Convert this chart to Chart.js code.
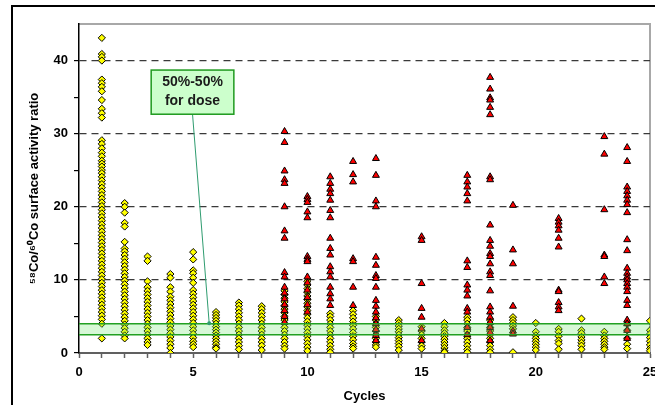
<!DOCTYPE html>
<html>
<head>
<meta charset="utf-8">
<script src="https://cdn.jsdelivr.net/npm/chart.js@4.4.0/dist/chart.umd.min.js"></script>
<style>
  body { margin: 0; background: #fff; }
  #caja { position: relative; width: 655px; height: 405px; }
</style>
</head>
<body>
<div id="caja"><canvas id="myChart"></canvas></div>
<script>
// ciclos con puntos amarillos (rombos)
const ciclos = [1, 2, 3, 4, 5, 6, 7, 8, 9, 10, 11, 12, 13, 14, 15, 16, 17, 18, 19, 20, 21, 22, 23, 24, 25];

// valores 58Co/60Co por ciclo (rombos amarillos)
const amarillos = [
  [43.1, 40.9, 40.5, 40.0, 37.4, 36.9, 36.4, 35.8, 34.6, 33.4, 32.8, 32.2, 29.1, 28.6, 28.0, 27.4, 26.9, 26.3, 25.9, 25.5, 25.0, 24.6, 24.1, 23.6, 23.1, 22.6, 22.1, 21.6, 21.1, 20.6, 20.1, 19.6, 19.1, 18.6, 18.1, 17.6, 17.1, 16.6, 16.1, 15.6, 15.1, 14.6, 14.1, 13.6, 13.1, 12.6, 12.1, 11.6, 11.1, 10.6, 10.1, 9.6, 9.1, 8.6, 8.1, 7.6, 7.1, 6.6, 6.1, 5.6, 5.1, 4.6, 4.0, 2.0],
  [20.5, 20.0, 19.2, 17.8, 17.3, 15.2, 14.3, 13.9, 13.4, 12.9, 12.4, 11.9, 11.4, 10.9, 10.4, 9.9, 9.4, 8.9, 8.4, 7.9, 7.4, 6.9, 6.4, 5.9, 5.4, 4.9, 4.4, 3.9, 3.4, 2.9, 2.4, 2.0],
  [13.2, 12.6, 9.8, 9.0, 8.5, 8.0, 7.5, 7.0, 6.5, 6.0, 5.5, 5.0, 4.5, 4.0, 3.5, 3.0, 2.5, 2.0, 1.5, 1.1],
  [10.8, 10.3, 9.0, 8.4, 7.7, 7.2, 6.7, 6.2, 5.7, 5.2, 4.7, 4.2, 3.7, 3.2, 2.7, 2.2, 1.7, 1.2, 0.7, 0.0],
  [13.8, 12.8, 11.3, 10.9, 10.3, 9.6, 8.6, 8.1, 7.6, 7.1, 6.6, 6.1, 5.6, 5.1, 4.6, 4.1, 3.6, 3.1, 2.6, 2.1, 1.6, 1.2, 0.8],
  [5.6, 5.2, 4.8, 4.4, 4.0, 3.6, 3.2, 2.8, 2.4, 2.0, 1.6, 1.2, 0.8, 0.6],
  [6.9, 6.5, 6.0, 5.5, 5.0, 4.5, 4.0, 3.5, 3.0, 2.5, 2.0, 1.5, 1.0, 0.5],
  [6.4, 6.0, 5.5, 5.0, 4.5, 4.0, 3.5, 3.0, 2.5, 2.0, 1.5, 1.0, 0.4],
  [8.5, 8.0, 7.5, 7.0, 6.5, 6.0, 5.5, 5.0, 4.5, 4.0, 3.5, 3.0, 2.5, 2.0, 1.5, 1.0, 0.6],
  [9.8, 9.3, 8.8, 8.3, 7.8, 7.3, 6.8, 6.3, 5.8, 5.3, 4.8, 4.3, 3.8, 3.3, 2.8, 2.3, 1.8, 1.3, 0.8, 0.3],
  [5.4, 5.0, 4.5, 4.0, 3.5, 3.0, 2.5, 2.0, 1.5, 1.0, 0.5, 0.1],
  [5.8, 5.3, 4.8, 4.3, 3.8, 3.3, 2.8, 2.3, 1.8, 1.3, 0.9, 0.6],
  [5.0, 4.5, 4.0, 3.5, 3.0, 2.5, 2.0, 1.5, 1.1, 0.8],
  [4.5, 4.1, 3.7, 3.3, 2.9, 2.5, 2.1, 1.7, 1.3, 0.9, 0.4],
  [3.6, 3.0, 2.5, 2.0, 1.5, 1.0, 0.6],
  [4.1, 3.6, 3.1, 2.7, 2.3, 1.9, 1.5, 1.1, 0.7, 0.3, 0.1],
  [4.9, 4.5, 4.0, 3.5, 3.0, 2.5, 2.0, 1.5, 1.0, 0.5, 0.1],
  [4.5, 4.0, 3.5, 3.0, 2.5, 2.0, 1.5, 1.0, 0.5, 0.1],
  [4.9, 4.5, 4.1, 3.7, 3.3, 0.1],
  [4.1, 2.9, 2.4, 2.0, 1.6, 1.2, 0.8, 0.4],
  [3.3, 2.9, 2.3, 1.7, 1.3, 0.5],
  [4.7, 3.1, 2.7, 2.2, 1.8, 1.4, 1.0, 0.5],
  [2.9, 2.4, 2.0, 1.6, 1.2, 0.8, 0.5],
  [4.0, 3.1, 2.0, 1.2, 0.6],
  [4.4, 3.1, 2.6, 2.1, 1.6, 1.1, 0.6, 0.3]
];

// ciclos con triangulos rojos
const ciclosRojos = [9, 10, 11, 12, 13, 15, 17, 18, 19, 21, 23, 24];
const rojos = [
  [30.3, 28.8, 24.9, 23.7, 23.2, 20.0, 16.7, 15.7, 11.0, 10.4, 9.0, 8.2, 7.4, 6.6, 5.8, 5.0, 4.2],
  [21.4, 21.0, 20.6, 19.3, 18.5, 13.2, 12.8, 12.5, 10.4, 9.6, 8.6, 7.6, 6.6, 5.6],
  [24.1, 23.2, 22.4, 21.8, 20.9, 19.5, 18.5, 15.7, 14.3, 13.4, 11.8, 11.1, 10.4, 9.0, 8.1, 7.4, 6.5],
  [26.2, 24.4, 23.4, 12.9, 12.5, 9.0, 6.5],
  [26.6, 24.3, 20.8, 20.0, 13.1, 12.0, 10.6, 10.2, 9.0, 7.2, 6.4, 5.6, 4.8, 4.0, 3.2, 2.4, 1.7],
  [15.9, 15.4, 9.5, 6.1, 4.9, 3.3, 1.7],
  [24.3, 23.4, 22.7, 21.8, 20.8, 12.6, 11.7, 9.3, 8.6, 7.8, 6.1, 5.6, 3.5, 2.5],
  [37.7, 36.1, 34.9, 34.6, 33.6, 32.6, 24.1, 23.7, 17.5, 15.4, 14.6, 13.6, 13.2, 12.2, 11.1, 10.6, 8.5, 6.3, 5.6, 4.9, 4.2, 3.5, 2.8, 1.7],
  [20.2, 14.1, 12.2, 6.4, 3.0, 2.6],
  [18.4, 17.9, 17.4, 16.8, 15.7, 14.5, 8.6, 8.4, 6.9, 6.3, 5.8],
  [29.6, 27.2, 19.6, 13.4, 13.2, 10.4, 9.5],
  [28.1, 26.2, 22.7, 22.1, 21.5, 20.9, 20.3, 19.2, 15.5, 14.0, 11.6, 10.9, 10.4, 10.0, 9.5, 9.0, 8.4, 7.2, 6.5, 4.5, 4.0, 3.1, 2.0]
];

// banda 50%-50% para dosis
const banda = [2.5, 4.0];
const textoNota = ["50%-50%", "for dose"];

const xTicks = [0, 5, 10, 15, 20, 25];
const yTicks = [0, 10, 20, 30, 40];

var puntosAmarillos = [];
for (i = 0; i < ciclos.length; i++) {
  amarillos[i].forEach(v => puntosAmarillos.push({x: ciclos[i], y: v}));
}
var puntosRojos = [];
for (i = 0; i < ciclosRojos.length; i++) {
  rojos[i].forEach(v => puntosRojos.push({x: ciclosRojos[i], y: v}));
}

// marco exterior, borde del area, banda verde y cuadro de texto
const extras = {
  id: 'extras',
  beforeDraw(chart) {
    const ctx = chart.ctx;
    const a = chart.chartArea;
    ctx.save();
    ctx.fillStyle = '#fff';
    ctx.fillRect(0, 0, chart.width, chart.height);
    ctx.strokeStyle = '#000';
    ctx.lineWidth = 2;
    ctx.beginPath();
    ctx.moveTo(12, chart.height);
    ctx.lineTo(12, 6);
    ctx.lineTo(chart.width, 6);
    ctx.stroke();
    ctx.strokeStyle = '#a8a8a8';
    ctx.lineWidth = 2;
    ctx.beginPath();
    ctx.moveTo(a.left, a.top);
    ctx.lineTo(a.right, a.top);
    ctx.lineTo(a.right, a.bottom);
    ctx.stroke();
    ctx.restore();
  },
  afterDatasetsDraw(chart) {
    const ctx = chart.ctx;
    const a = chart.chartArea;
    const x = chart.scales.x, y = chart.scales.y;
    const yArriba = y.getPixelForValue(banda[1]);
    const yAbajo = y.getPixelForValue(banda[0]);
    ctx.save();
    ctx.fillStyle = 'rgba(110, 230, 110, 0.28)';
    ctx.fillRect(a.left, yArriba, a.right - a.left, yAbajo - yArriba);
    ctx.strokeStyle = '#22a022';
    ctx.lineWidth = 1.5;
    ctx.beginPath();
    ctx.moveTo(a.left, yArriba); ctx.lineTo(a.right, yArriba);
    ctx.moveTo(a.left, yAbajo); ctx.lineTo(a.right, yAbajo);
    ctx.stroke();

    // linea de la nota hasta la banda
    const x1 = x.getPixelForValue(4.97), y1 = y.getPixelForValue(32.7);
    const x2 = x.getPixelForValue(5.7), y2 = y.getPixelForValue(4.07);
    ctx.strokeStyle = '#2f9c70';
    ctx.lineWidth = 1;
    ctx.beginPath();
    ctx.moveTo(x1, y1); ctx.lineTo(x2, y2);
    ctx.stroke();
    ctx.fillStyle = '#2f9c70';
    ctx.beginPath();
    ctx.arc(x2, y2, 2, 0, Math.PI * 2);
    ctx.fill();

    // cuadro
    const bx1 = x.getPixelForValue(3.16), bx2 = x.getPixelForValue(6.78);
    const by1 = y.getPixelForValue(38.7), by2 = y.getPixelForValue(32.66);
    ctx.fillStyle = '#ccffcc';
    ctx.fillRect(bx1, by1, bx2 - bx1, by2 - by1);
    ctx.strokeStyle = '#1e9a1e';
    ctx.lineWidth = 1.5;
    ctx.strokeRect(bx1, by1, bx2 - bx1, by2 - by1);
    ctx.fillStyle = '#1a1a1a';
    ctx.font = 'bold 14px "Liberation Sans", Arial, sans-serif';
    ctx.textAlign = 'center';
    ctx.textBaseline = 'middle';
    const cx = (bx1 + bx2) / 2;
    ctx.fillText(textoNota[0], cx, by1 + 12);
    ctx.fillText(textoNota[1], cx, by1 + 31);
    ctx.restore();
  }
};

const fuente = {family: '"Liberation Sans", Arial, sans-serif', size: 13, weight: 'bold'};

new Chart("myChart", {
  type: "scatter",
  data: {
    datasets: [{
      label: "rojos",
      data: puntosRojos,
      pointStyle: 'triangle',
      pointRadius: 4,
      backgroundColor: '#ff0000',
      borderColor: '#000',
      borderWidth: 1
    }, {
      label: "amarillos",
      data: puntosAmarillos,
      pointStyle: 'rectRot',
      pointRadius: 3.6,
      backgroundColor: '#ffff00',
      borderColor: '#000',
      borderWidth: 1
    }]
  },
  options: {
    responsive: true,
    maintainAspectRatio: false,
    animation: false,
    layout: { padding: {left: 0, top: 24, right: 2, bottom: 0} },
    scales: {
      x: {
        type: 'linear',
        min: 0,
        max: 25,
        afterFit: function(s) {
          s.height = 52;
          s.paddingLeft = 0; s.paddingRight = 0;
        },
        border: { color: '#606060', width: 2 },
        grid: { drawOnChartArea: false, tickLength: 5, tickColor: '#606060', tickWidth: 1.5 },
        ticks: {
          stepSize: 1,
          autoSkip: false,
          maxRotation: 0,
          padding: 7,
          color: '#000',
          font: fuente,
          callback: v => xTicks.includes(v) ? v : ''
        },
        title: {
          display: true,
          text: 'Cycles',
          color: '#000',
          font: fuente,
          padding: {top: 0, bottom: 1}
        }
      },
      y: {
        min: 0,
        max: 45,
        afterFit: function(s) {
          s.width = 79;
          s.paddingTop = 0; s.paddingBottom = 0;
        },
        border: { color: '#000', width: 1.5, dash: [7, 5] },
        grid: {
          color: c => (c.tick && yTicks.includes(c.tick.value) && c.tick.value > 0) ? '#3a3a3a' : 'rgba(0,0,0,0)',
          lineWidth: 1.2,
          tickLength: 5,
          tickColor: c => (c.tick && c.tick.value < 45) ? '#000' : 'rgba(0,0,0,0)',
          tickWidth: 1.2
        },
        ticks: {
          stepSize: 5,
          autoSkip: false,
          padding: 6,
          color: '#000',
          font: fuente,
          callback: v => yTicks.includes(v) ? v : ''
        },
        title: {
          display: true,
          text: '\u2075\u2078Co/\u2076\u2070Co surface activity ratio',
          color: '#000',
          font: fuente,
          padding: {top: 27, bottom: 0}
        }
      }
    },
    plugins: {
      legend: { display: false },
      tooltip: { enabled: false }
    }
  },
  plugins: [extras]
});
</script>
</body>
</html>
